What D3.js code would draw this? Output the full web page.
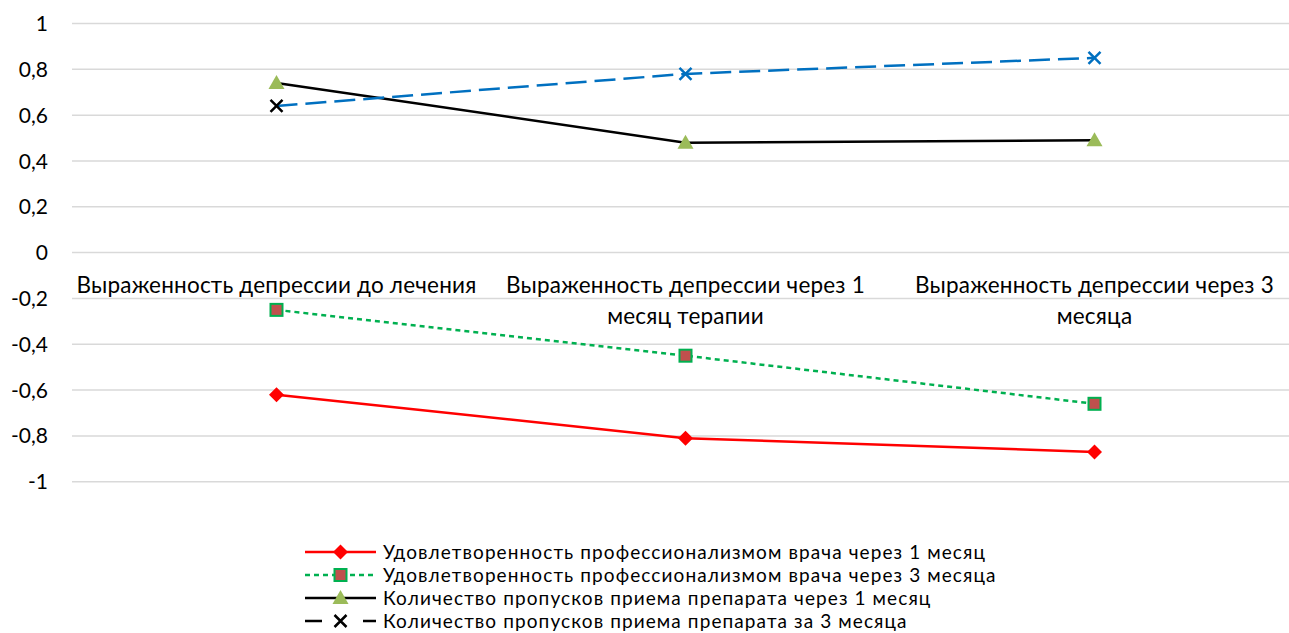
<!DOCTYPE html>
<html>
<head>
<meta charset="utf-8">
<script src="https://cdn.jsdelivr.net/npm/d3@7"></script>
<style>
  html, body { margin: 0; padding: 0; background: #fff; }
  svg text { font-family: Lato, "Open Sans", sans-serif; fill: #000; }
</style>
</head>
<body>
<svg id="chart" width="1289" height="633"></svg>
<script>
// Categories (time points)
const categories = [
  "Выраженность депрессии до лечения",
  "Выраженность депрессии через 1 месяц терапии",
  "Выраженность депрессии через 3 месяца"
];
// Series values
const satisfaction1m = [-0.62, -0.81, -0.87];
const satisfaction3m = [-0.25, -0.45, -0.66];
const missed1m = [0.74, 0.48, 0.49];
const missed3m = [0.64, 0.78, 0.85];
// Series names
const seriesNames = [
  "Удовлетворенность профессионализмом врача через 1 месяц",
  "Удовлетворенность профессионализмом врача через 3 месяца",
  "Количество пропусков приема препарата через 1 месяц",
  "Количество пропусков приема препарата за 3 месяца"
];
// Y axis ticks
const yTicks = [-1, -0.8, -0.6, -0.4, -0.2, 0, 0.2, 0.4, 0.6, 0.8, 1];

const series = [
  { name: seriesNames[0], values: satisfaction1m, color: "#FF0000", dash: null, marker: "diamond" },
  { name: seriesNames[1], values: satisfaction3m, color: "#00B050", dash: "5,4", marker: "square" },
  { name: seriesNames[2], values: missed1m, color: "#000000", dash: null, marker: "triangle" },
  { name: seriesNames[3], values: missed3m, color: "#0070C0", dash: "21,8", marker: "cross" }
];

const svg = d3.select("#chart");
const plot = { left: 72, right: 1299, top: 23.5, bottom: 481.7 };

const x = d3.scaleBand().domain(categories).range([plot.left, plot.right]);
const y = d3.scaleLinear().domain([-1, 1]).range([plot.bottom, plot.top]);
const cx = c => x(c) + x.bandwidth() / 2;

// Gridlines
svg.append("g").selectAll("line").data(yTicks).join("line")
  .attr("x1", plot.left).attr("x2", plot.right)
  .attr("y1", d => y(d)).attr("y2", d => y(d))
  .attr("stroke", "#D9D9D9").attr("stroke-width", 1.5);

// Y axis labels
const fmt = v => String(Math.round(v * 10) / 10).replace(".", ",");
svg.append("g").selectAll("text").data(yTicks).join("text")
  .attr("x", 48).attr("y", d => y(d)).attr("dy", "0.36em")
  .attr("text-anchor", "end").attr("font-size", 21)
  .text(d => fmt(d));

// Category labels, wrapped to the band width, placed below the zero line
const catG = svg.append("g");
categories.forEach(c => {
  const t = catG.append("text").attr("text-anchor", "middle").attr("font-size", 22.5)
    .attr("letter-spacing", 0.2)
    .attr("x", cx(c)).attr("y", y(0) + 40.5);
  const words = c.split(" ");
  let line = [];
  let tspan = t.append("tspan").attr("x", cx(c)).attr("dy", 0);
  words.forEach(w => {
    line.push(w);
    tspan.text(line.join(" "));
    if (tspan.node().getComputedTextLength() > x.bandwidth() - 8 && line.length > 1) {
      line.pop();
      tspan.text(line.join(" "));
      line = [w];
      tspan = t.append("tspan").attr("x", cx(c)).attr("dy", 31).text(w);
    }
  });
});

// Marker drawing
function drawMarker(g, type, px, py, color) {
  if (type === "diamond") {
    const s = 7.5;
    g.append("path").attr("d", `M${px},${py - s}L${px + s},${py}L${px},${py + s}L${px - s},${py}Z`)
      .attr("fill", "#FF0000");
  } else if (type === "square") {
    g.append("rect").attr("x", px - 6).attr("y", py - 6).attr("width", 12).attr("height", 12)
      .attr("fill", "#C0504D").attr("stroke", "#00B050").attr("stroke-width", 2);
  } else if (type === "triangle") {
    g.append("path").attr("d", `M${px},${py - 8}L${px + 8},${py + 6}L${px - 8},${py + 6}Z`)
      .attr("fill", "#9BBB59");
  } else if (type === "cross") {
    const s = 6;
    g.append("path").attr("d", `M${px - s},${py - s}L${px + s},${py + s}M${px - s},${py + s}L${px + s},${py - s}`)
      .attr("stroke", color).attr("stroke-width", 2.5).attr("fill", "none");
  }
}

const line = d3.line().x((d, i) => cx(categories[i])).y(d => y(d));

series.forEach(s => {
  const g = svg.append("g");
  g.append("path").attr("d", line(s.values))
    .attr("fill", "none").attr("stroke", s.color).attr("stroke-width", 2.5)
    .attr("stroke-dasharray", s.dash);
  s.values.forEach((v, i) => {
    // first point of the last series has a black marker
    const mColor = (s.marker === "cross" && i === 0) ? "#000000" : s.color;
    drawMarker(g, s.marker, cx(categories[i]), y(v), mColor);
  });
});

// Legend
const legend = svg.append("g");
const legendStyles = [
  { color: "#FF0000", dash: null },
  { color: "#00B050", dash: "5,4" },
  { color: "#000000", dash: null },
  { color: "#000000", dash: "17,41" }
];
series.forEach((s, i) => {
  const ly = 552 + i * 23;
  const st = legendStyles[i];
  legend.append("line").attr("x1", 305).attr("x2", 376).attr("y1", ly).attr("y2", ly)
    .attr("stroke", st.color).attr("stroke-width", 2.5).attr("stroke-dasharray", st.dash);
  drawMarker(legend, s.marker, 340.5, ly, s.marker === "cross" ? "#000000" : s.color);
  legend.append("text").attr("x", 383).attr("y", ly).attr("dy", "0.36em")
    .attr("font-size", 19).attr("letter-spacing", 1.1).text(s.name);
});
</script>
</body>
</html>
